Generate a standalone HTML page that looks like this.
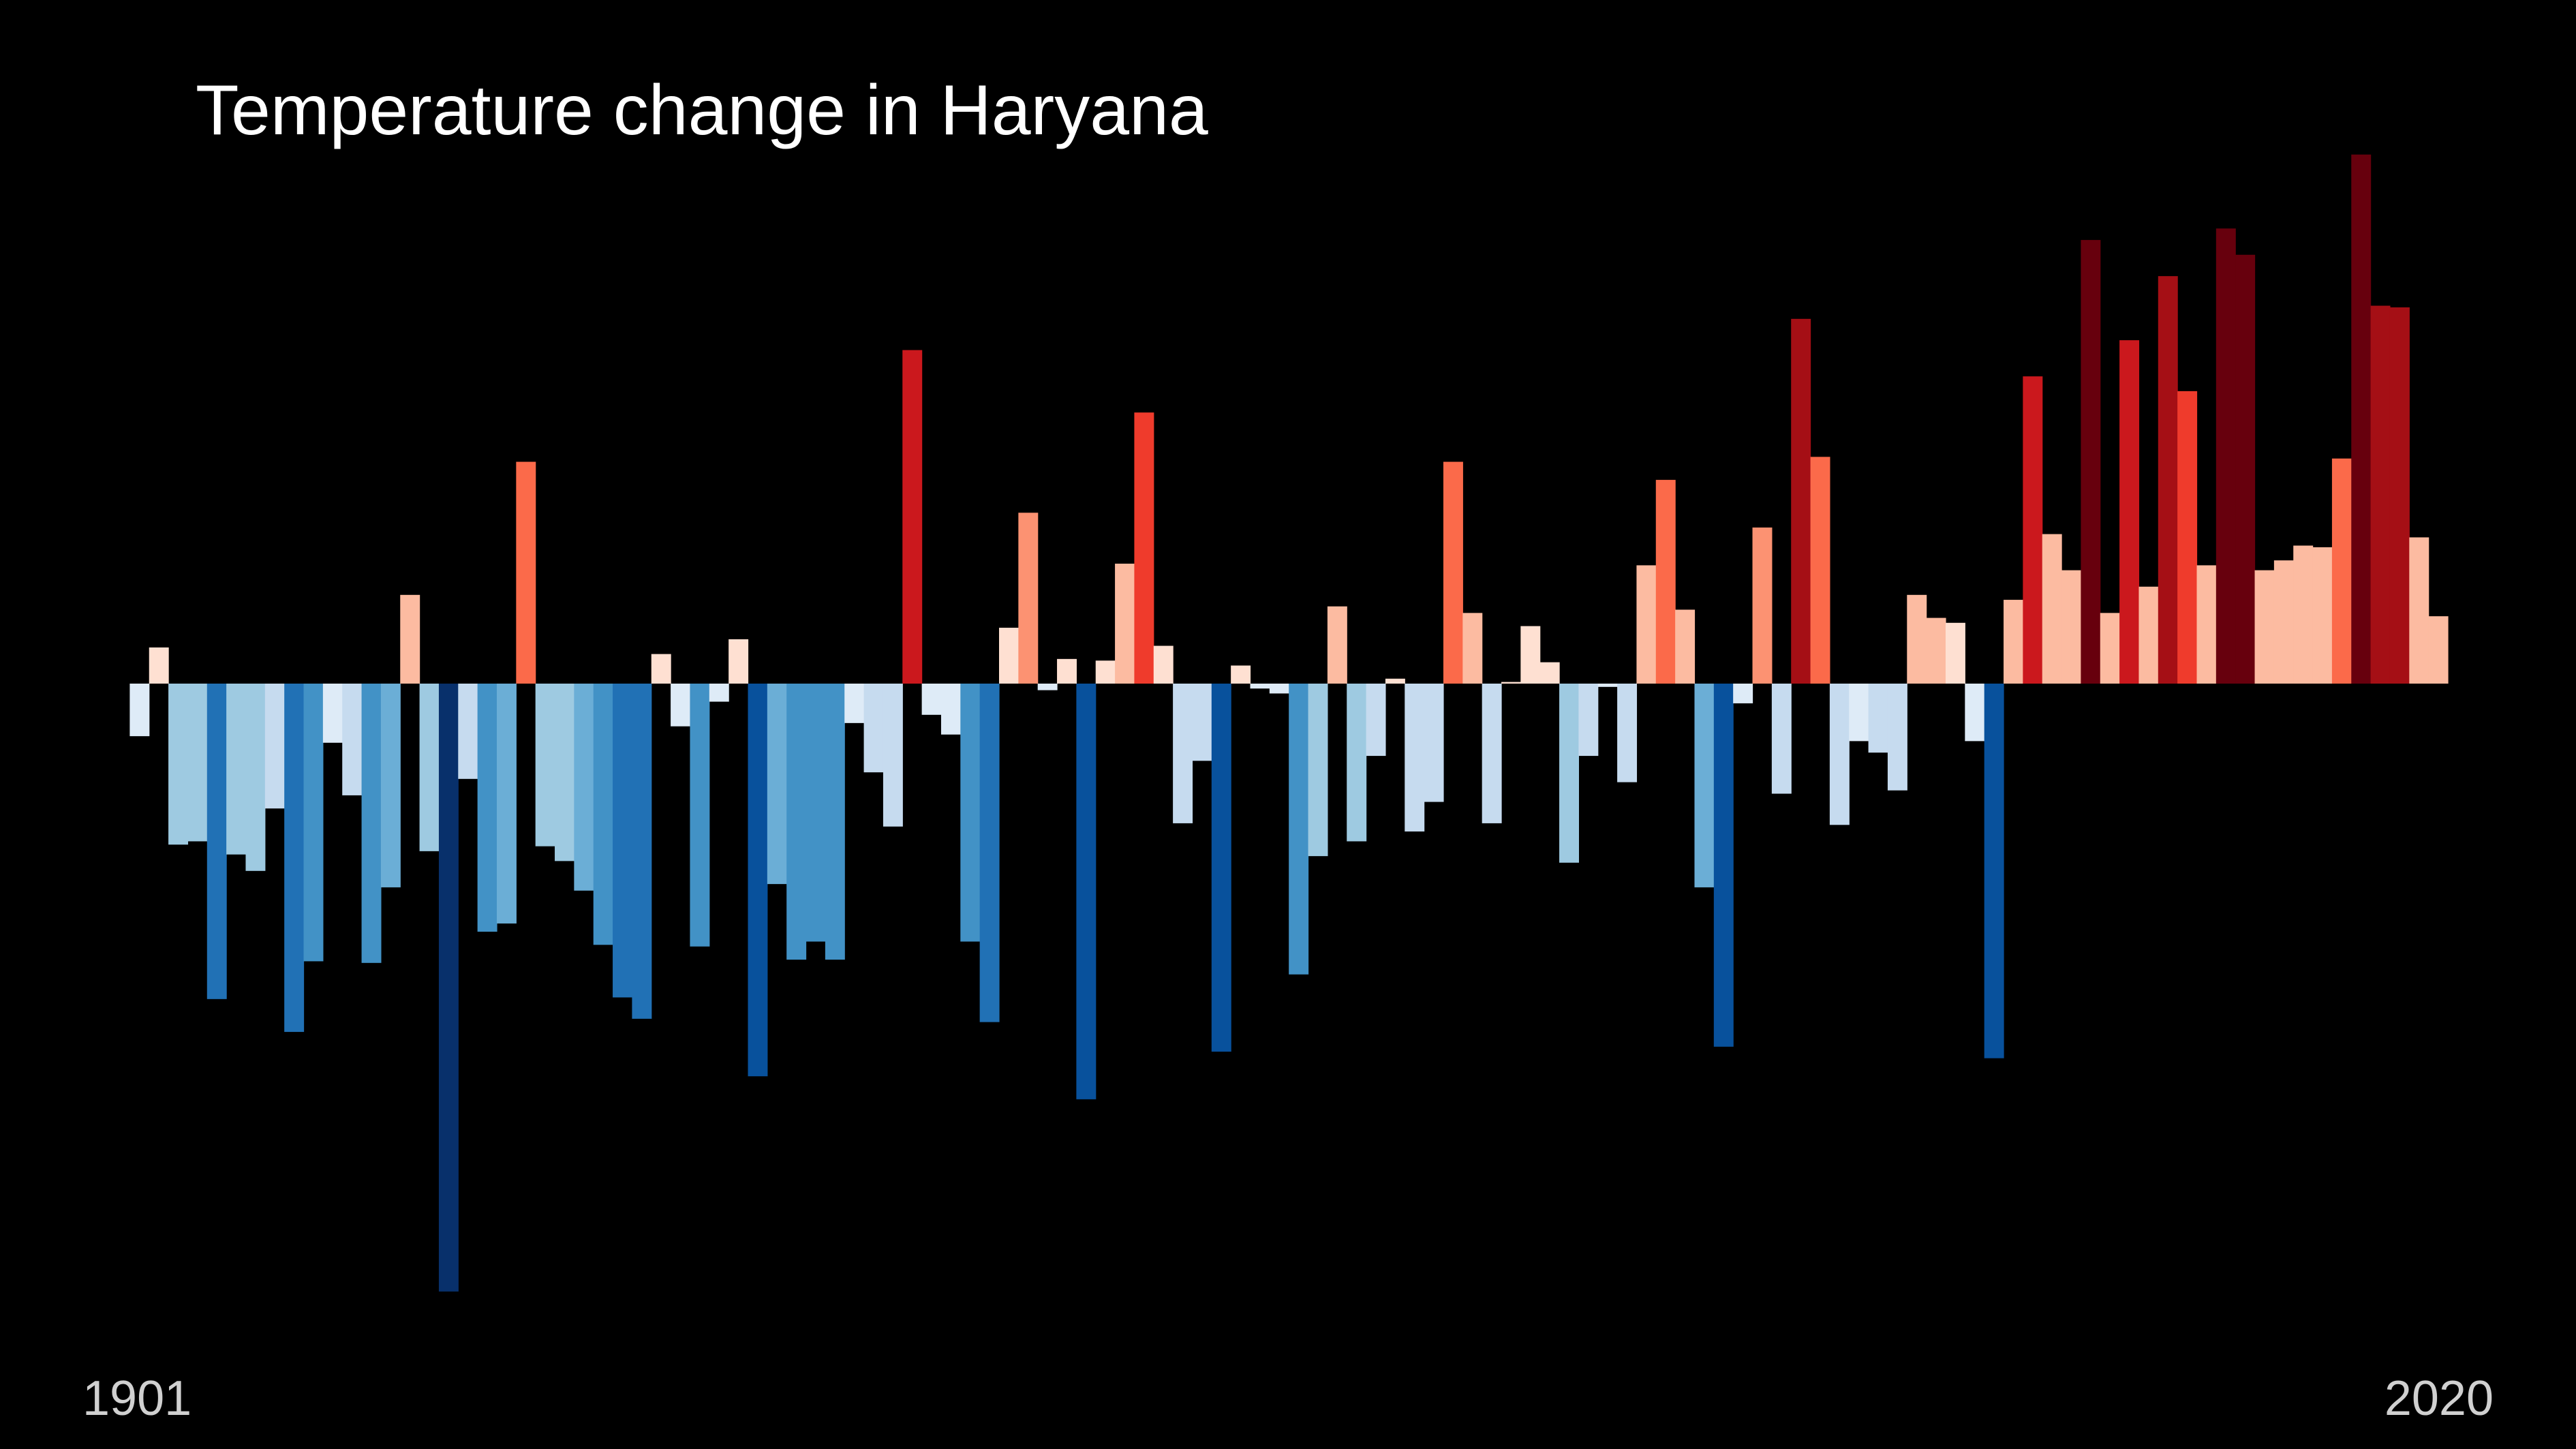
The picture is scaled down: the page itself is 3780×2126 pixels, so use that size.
<!DOCTYPE html>
<html>
<head>
<meta charset="utf-8">
<style>
  html,body{margin:0;padding:0;background:#000;}
  svg{display:block;}
</style>
</head>
<body>
<svg id="chart" xmlns="http://www.w3.org/2000/svg" width="3780" height="2126" viewBox="0 0 3780 2126">
  <rect x="0" y="0" width="3780" height="2126" fill="#000"/>
  <text x="287" y="197" fill="#fff" font-family="'Liberation Sans', sans-serif" font-size="104">Temperature change in Haryana</text>
  <g id="bars"></g>
  <text x="121" y="2076" fill="#d0d0d0" font-family="'Liberation Sans', sans-serif" font-size="72">1901</text>
  <text x="3659" y="2076" text-anchor="end" fill="#d0d0d0" font-family="'Liberation Sans', sans-serif" font-size="72">2020</text>
</svg>
<script>
const startYear = 1901;
const endYear = 2020;
const anomalies = [
 -0.32, 0.22, -0.98, -0.96, -1.92, -1.04, -1.14, -0.76, -2.12, -1.69,
 -0.36, -0.68, -1.70, -1.24, 0.54, -1.02, -3.70, -0.58, -1.51, -1.46,
 1.35, -0.99, -1.08, -1.26, -1.59, -1.91, -2.04, 0.18, -0.26, -1.60,
 -0.11, 0.27, -2.39, -1.22, -1.68, -1.57, -1.68, -0.24, -0.54, -0.87,
 2.03, -0.19, -0.31, -1.57, -2.06, 0.34, 1.04, -0.04, 0.15, -2.53,
 0.14, 0.73, 1.65, 0.23, -0.85, -0.47, -2.24, 0.11, -0.03, -0.06,
 -1.77, -1.05, 0.47, -0.96, -0.44, 0.03, -0.90, -0.72, 1.35, 0.43,
 -0.85, 0.01, 0.35, 0.13, -1.09, -0.44, -0.02, -0.60, 0.72, 1.24,
 0.45, -1.24, -2.21, -0.12, 0.95, -0.67, 2.22, 1.38, -0.86, -0.35,
 -0.42, -0.65, 0.54, 0.40, 0.37, -0.35, -2.28, 0.51, 1.87, 0.91,
 0.69, 2.70, 0.43, 2.09, 0.59, 2.48, 1.78, 0.72, 2.77, 2.61,
 0.69, 0.75, 0.84, 0.83, 1.37, 3.22, 2.30, 2.29, 0.89, 0.41
];
const blues = ['#deebf7','#c6dbef','#9ecae1','#6baed6','#4292c6','#2171b5','#08519c','#08306b'];
const reds = ['#fee0d2','#fcbba1','#fc9272','#fb6a4a','#ef3b2c','#cb181d','#a50f15','#67000d'];
const thresholds = [0.4, 0.95, 1.15, 1.5, 1.85, 2.2, 2.55];

const plotLeft = 190.4, plotRight = 3592, baseline = 1003, unitPx = 241.07;
const n = endYear - startYear + 1;
const bw = (plotRight - plotLeft) / n;
function xScale(i){ return plotLeft + i * bw; }
function yScale(v){ return baseline - v * unitPx; }
function colorFor(v){
  const a = Math.abs(v);
  let k = 0;
  while (k < thresholds.length && a >= thresholds[k]) k++;
  return v >= 0 ? reds[k] : blues[k];
}
const g = document.getElementById('bars');
const NS = 'http://www.w3.org/2000/svg';
anomalies.forEach((v, i) => {
  const r = document.createElementNS(NS, 'rect');
  const y0 = yScale(0), y1 = yScale(v);
  r.setAttribute('x', xScale(i));
  r.setAttribute('width', bw + 0.6);
  r.setAttribute('y', Math.min(y0, y1));
  r.setAttribute('height', Math.max(Math.abs(y1 - y0), 1));
  r.setAttribute('fill', colorFor(v));
  
  
  g.appendChild(r);
});
</script>
</body>
</html>
